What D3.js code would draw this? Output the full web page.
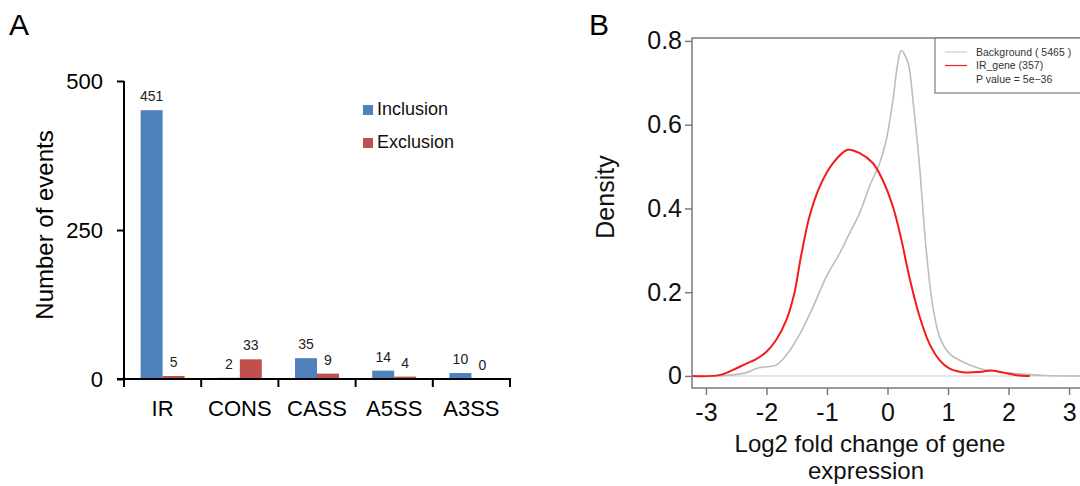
<!DOCTYPE html>
<html>
<head>
<meta charset="utf-8">
<script src="https://cdn.jsdelivr.net/npm/d3@7"></script>
<style>
  body { margin: 0; background: #fff; }
  svg { display: block; font-family: "Liberation Sans", Arial, sans-serif; }
</style>
</head>
<body>
<svg id="chart" width="1080" height="486"></svg>
<script>
// panel A data
var categories = ["IR", "CONS", "CASS", "A5SS", "A3SS"];
var seriesNames = ["Inclusion", "Exclusion"];
var inclusion = [451, 2, 35, 14, 10];
var exclusion = [5, 33, 9, 4, 0];
var countTicks = [0, 250, 500];

// panel B data (density curves)
var bgX = [-2.9, -2.6, -2.33, -2.17, -2.0, -1.84, -1.67, -1.45, -1.23, -1.01, -0.79, -0.63, -0.46, -0.30, -0.13, -0.02, 0.09, 0.17, 0.226, 0.34, 0.42, 0.53, 0.64, 0.75, 0.86, 1.02, 1.24, 1.52, 1.85, 2.18, 2.62, 3.0, 3.3];
var bgY = [0.0, 0.002, 0.008, 0.018, 0.022, 0.026, 0.05, 0.10, 0.165, 0.237, 0.293, 0.34, 0.389, 0.452, 0.508, 0.564, 0.659, 0.747, 0.777, 0.747, 0.659, 0.50, 0.30, 0.165, 0.094, 0.054, 0.034, 0.018, 0.010, 0.005, 0.001, 0.0, 0.0];
var irX = [-3.23, -2.78, -2.56, -2.34, -2.17, -2.0, -1.84, -1.67, -1.54, -1.43, -1.29, -1.12, -0.90, -0.66, -0.46, -0.24, -0.08, 0.09, 0.23, 0.36, 0.53, 0.69, 0.86, 1.02, 1.24, 1.52, 1.71, 1.91, 2.13, 2.35];
var irY = [0.0, 0.002, 0.014, 0.029, 0.04, 0.058, 0.086, 0.134, 0.197, 0.285, 0.38, 0.452, 0.508, 0.54, 0.532, 0.508, 0.468, 0.404, 0.325, 0.237, 0.142, 0.078, 0.038, 0.018, 0.009, 0.0095, 0.013, 0.008, 0.002, 0.0];
var densityTicks = [0, 0.2, 0.4, 0.6, 0.8];
var foldTicks = [-3, -2, -1, 0, 1, 2, 3];
var legendLines = ["Background ( 5465 )", "IR_gene (357)", "P value = 5e\u221236"];

var svg = d3.select("#chart");

// ---------- panel A: grouped bars ----------
var colors = { Inclusion: "#4F81BD", Exclusion: "#C0504D" };

var x0 = d3.scaleBand().domain(categories).range([124, 510]);
var x1 = d3.scaleBand().domain(seriesNames).range([0, x0.bandwidth()]).paddingOuter(0.755);
var yA = d3.scaleLinear().domain([0, 500]).range([379, 81]);

svg.append("text").attr("x", 9).attr("y", 35)
  .style("font-size", "30px").text("A");

var gA = svg.append("g");

categories.forEach(function (c, i) {
  var vals = [inclusion[i], exclusion[i]];
  seriesNames.forEach(function (s, j) {
    var bx = x0(c) + x1(s);
    gA.append("rect")
      .attr("x", bx)
      .attr("y", yA(vals[j]))
      .attr("width", x1.bandwidth())
      .attr("height", yA(0) - yA(vals[j]))
      .attr("fill", colors[s]);
    gA.append("text")
      .attr("x", bx + x1.bandwidth() / 2)
      .attr("y", yA(vals[j]) - 9)
      .attr("text-anchor", "middle")
      .style("font-size", "14px")
      .attr("fill", "#222")
      .text(vals[j]);
  });
});

// y axis
var yAxisA = gA.append("g").attr("transform", "translate(124,0)")
  .call(d3.axisLeft(yA).tickValues(countTicks).tickSize(7).tickPadding(14));
yAxisA.select(".domain").attr("d", "M0," + yA(500) + "V" + yA(0));
yAxisA.selectAll("path, line").attr("stroke", "#000").attr("stroke-width", 2);
yAxisA.selectAll("text").style("font-size", "22px").attr("fill", "#000");

// x axis with ticks at band edges
var xAxisA = gA.append("g").attr("transform", "translate(0," + yA(0) + ")");
xAxisA.append("line").attr("x1", 117).attr("x2", 511)
  .attr("stroke", "#000").attr("stroke-width", 2);
var edges = categories.map(function (c) { return x0(c); }).concat([x0.range()[1]]);
xAxisA.selectAll(".edge").data(edges).enter().append("line")
  .attr("x1", function (d) { return d; }).attr("x2", function (d) { return d; })
  .attr("y1", 0).attr("y2", 8)
  .attr("stroke", "#000").attr("stroke-width", 2);
xAxisA.selectAll(".cat").data(categories).enter().append("text")
  .attr("x", function (d) { return x0(d) + x0.bandwidth() / 2; })
  .attr("y", 37)
  .attr("text-anchor", "middle")
  .style("font-size", "22px")
  .text(function (d) { return d; });

gA.append("text")
  .attr("transform", "translate(53,225) rotate(-90)")
  .attr("text-anchor", "middle")
  .style("font-size", "24px")
  .text("Number of events");

// legend
seriesNames.forEach(function (s, i) {
  var ly = 105 + i * 33;
  gA.append("rect").attr("x", 363).attr("y", ly).attr("width", 10).attr("height", 10)
    .attr("fill", colors[s]);
  gA.append("text").attr("x", 377).attr("y", ly + 10)
    .style("font-size", "18px").attr("fill", "#111").text(s);
});

// ---------- panel B: density curves ----------
var xB = d3.scaleLinear().domain([-3.23, 3.23]).range([692, 1083]);
var yB = d3.scaleLinear().domain([-0.0287, 0.807]).range([388, 38]);

svg.append("text").attr("x", 589).attr("y", 35)
  .style("font-size", "30px").text("B");

var gB = svg.append("g");

// zero reference line
gB.append("line")
  .attr("x1", xB(-3.23)).attr("x2", xB(3.23))
  .attr("y1", yB(0)).attr("y2", yB(0))
  .attr("stroke", "#cfcfcf").attr("stroke-width", 1);

var line = d3.line()
  .x(function (d) { return xB(d[0]); })
  .y(function (d) { return yB(d[1]); })
  .curve(d3.curveCatmullRom.alpha(0.5));

gB.append("path")
  .datum(d3.zip(bgX, bgY))
  .attr("d", line)
  .attr("fill", "none").attr("stroke", "#bdbdbd").attr("stroke-width", 1.6);

gB.append("path")
  .datum(d3.zip(irX, irY))
  .attr("d", line)
  .attr("fill", "none").attr("stroke", "#f31b1b").attr("stroke-width", 2);

// frame
gB.append("rect")
  .attr("x", 692).attr("y", 38).attr("width", 391).attr("height", 350)
  .attr("fill", "none").attr("stroke", "#7a7a7a").attr("stroke-width", 1.5);

var yAxisB = gB.append("g").attr("transform", "translate(692,0)")
  .call(d3.axisLeft(yB).tickValues(densityTicks).tickSize(7).tickPadding(3)
    .tickFormat(function (d) { return d === 0 ? "0" : d3.format(".1f")(d); }));
yAxisB.select(".domain").remove();
yAxisB.selectAll("line").attr("stroke", "#7a7a7a").attr("stroke-width", 1.5);
yAxisB.selectAll("text").style("font-size", "25px").attr("fill", "#111");

var xAxisB = gB.append("g").attr("transform", "translate(0,388)")
  .call(d3.axisBottom(xB).tickValues(foldTicks).tickSize(7).tickPadding(8)
    .tickFormat(function (d) { return String(d); }));
xAxisB.select(".domain").remove();
xAxisB.selectAll("line").attr("stroke", "#7a7a7a").attr("stroke-width", 1.5);
xAxisB.selectAll("text").style("font-size", "25px").attr("fill", "#111");

gB.append("text")
  .attr("transform", "translate(614,197) rotate(-90)")
  .attr("text-anchor", "middle")
  .style("font-size", "25px").attr("fill", "#111")
  .text("Density");

gB.append("text").attr("x", 870).attr("y", 452).attr("text-anchor", "middle")
  .style("font-size", "24px").attr("fill", "#111").text("Log2 fold change of gene");
gB.append("text").attr("x", 866).attr("y", 479).attr("text-anchor", "middle")
  .style("font-size", "24px").attr("fill", "#111").text("expression");

// legend
gB.append("rect")
  .attr("x", 935).attr("y", 38).attr("width", 160).attr("height", 55)
  .attr("fill", "#fff").attr("stroke", "#7a7a7a").attr("stroke-width", 1.2);
var legendColors = ["#cfcfcf", "#f31b1b", null];
legendLines.forEach(function (t, i) {
  var ly = 52 + i * 13.5;
  if (legendColors[i]) {
    gB.append("line").attr("x1", 945).attr("x2", 967).attr("y1", ly).attr("y2", ly)
      .attr("stroke", legendColors[i]).attr("stroke-width", 1.2);
  }
  gB.append("text").attr("x", 976).attr("y", ly + 3.5)
    .style("font-size", "10.5px").attr("fill", "#333").text(t);
});
</script>
</body>
</html>
